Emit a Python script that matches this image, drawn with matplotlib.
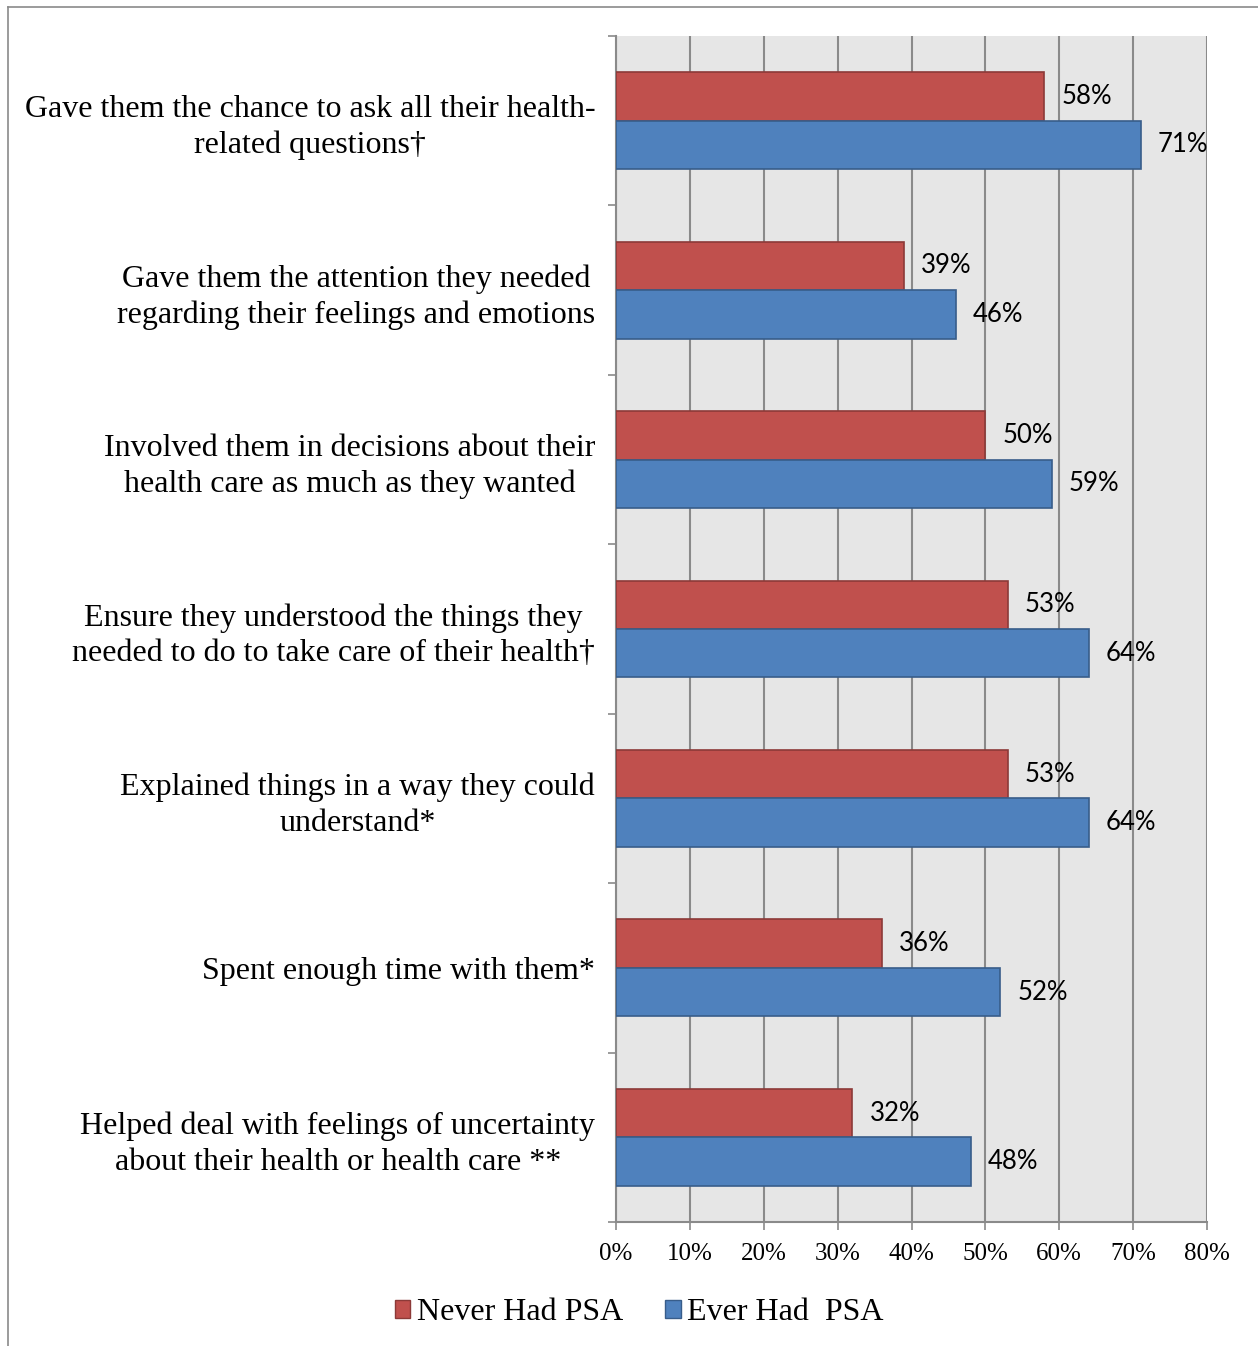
import matplotlib.pyplot as plt
from matplotlib.lines import Line2D
from matplotlib.patches import Patch
import numpy as np

categories = [
    "Gave them the chance to ask all their health-\nrelated questions\u2020",
    "Gave them the attention they needed\nregarding their feelings and emotions",
    "Involved them in decisions about their\nhealth care as much as they wanted",
    "Ensure they understood the things they\nneeded to do to take care of their health\u2020",
    "Explained things in a way they could\nunderstand*",
    "Spent enough time with them*",
    "Helped deal with feelings of uncertainty\nabout their health or health care **",
]
never_had = [58, 39, 50, 53, 53, 36, 32]
ever_had = [71, 46, 59, 64, 64, 52, 48]
series_names = ["Never Had PSA", "Ever Had  PSA"]
xticks = [0, 10, 20, 30, 40, 50, 60, 70, 80]

red, red_edge = "#C0504D", "#8C3A38"
blue, blue_edge = "#4F81BD", "#385D8A"
grid_col = "#8A8A8A"
serif = "Liberation Serif"

W, H = 1258, 1346
fig = plt.figure(figsize=(W / 100, H / 100), dpi=100)
ax = fig.add_axes([616 / W, 1 - 1222 / H, 591 / W, 1186 / H])
ax.set_facecolor("#E6E6E6")

y = np.arange(len(categories))
bh = 0.286
ax.barh(y - bh / 2, never_had, height=bh, color=red, edgecolor=red_edge,
        linewidth=1.2, zorder=3)
ax.barh(y + bh / 2, ever_had, height=bh, color=blue, edgecolor=blue_edge,
        linewidth=1.2, zorder=3)

for i in range(len(categories)):
    ax.text(never_had[i] + 2.3, y[i] - bh / 2, f"{never_had[i]}%", va="center",
            ha="left", fontsize=18.5, family="Lato", zorder=4)
    ax.text(ever_had[i] + 2.3, y[i] + bh / 2, f"{ever_had[i]}%", va="center",
            ha="left", fontsize=18.5, family="Lato", zorder=4)

ax.set_xlim(0, 80)
ax.set_ylim(len(categories) - 0.5, -0.5)

ax.set_xticks(xticks)
ax.set_xticklabels([f"{v}%" for v in xticks], family=serif, fontsize=18)
ax.xaxis.grid(True, color=grid_col, linewidth=1.5, zorder=0)
ax.set_axisbelow(True)

# category labels sit on centre ticks, tick marks go on the boundaries
ax.set_yticks(y)
ax.set_yticklabels(categories, family=serif, fontsize=23, linespacing=1.3)
for lab in ax.get_yticklabels():
    lab.set_multialignment("center")
ax.set_yticks(np.arange(-0.5, len(categories)), minor=True)
ax.tick_params(axis="y", which="major", length=0, pad=15)
ax.tick_params(axis="y", which="minor", length=6, width=1.2, color=grid_col,
               direction="out")
ax.tick_params(axis="x", length=6, width=1.2, color=grid_col, pad=9)

for s in ["top", "right"]:
    ax.spines[s].set_visible(False)
for s in ["left", "bottom"]:
    ax.spines[s].set_color(grid_col)
    ax.spines[s].set_linewidth(1.5)

handles = [Patch(facecolor=red, edgecolor=red_edge),
           Patch(facecolor=blue, edgecolor=blue_edge)]
fig.legend(handles, series_names, loc="center", bbox_to_anchor=(639 / W, 1 - 1313 / H),
           ncol=2, frameon=False, prop={"family": serif, "size": 23},
           handlelength=0.5, handleheight=0.5, handletextpad=0.2,
           columnspacing=1.3, borderpad=0.2)

# outer chart frame
fig.add_artist(Line2D([8 / W, 1], [1 - 7 / H, 1 - 7 / H], color="#8A8A8A", lw=1.2))
fig.add_artist(Line2D([8 / W, 8 / W], [0, 1 - 7 / H], color="#8A8A8A", lw=1.2))

fig.savefig("out.png", dpi=100)
